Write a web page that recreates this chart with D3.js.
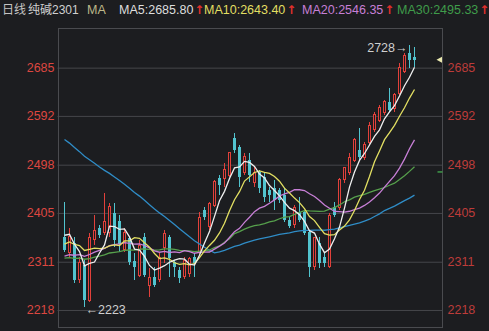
<!DOCTYPE html>
<html>
<head>
<meta charset="utf-8">
<script src="https://cdn.jsdelivr.net/npm/d3@7/dist/d3.min.js"></script>
<style>
  html, body { margin: 0; padding: 0; background: #1c1d20; }
  svg { display: block; }
</style>
</head>
<body>
<svg id="chart" width="489" height="331"></svg>
<script>
// daily bars, 纯碱2301 (visible window)
const opens  = [2359,2328,2347,2276,2305,2237,2353,2376,2368,2368,2405,2390,2334,2357,2312,2285,2359,2266,2282,2276,
                2339,2359,2310,2295,2282,2289,2320,2328,2411,2378,2420,2472,2472,2478,2549,2532,2482,2507,2463,2484,
                2474,2449,2453,2449,2440,2391,2382,2407,2407,2368,2301,2347,2320,2301,2416,2416,2469,2482,2507,2526,
                2511,2540,2565,2584,2598,2619,2607,2636,2677,2713,2706]
const highs  = [2426,2376,2359,2320,2314,2366,2401,2382,2443,2424,2424,2401,2376,2361,2328,2353,2366,2299,2301,2328,
                2372,2363,2314,2301,2320,2320,2328,2407,2416,2426,2469,2478,2501,2522,2559,2536,2521,2521,2494,2488,
                2482,2455,2469,2453,2453,2397,2420,2436,2411,2372,2359,2359,2328,2405,2426,2472,2494,2521,2549,2569,
                2542,2580,2600,2613,2623,2646,2636,2694,2713,2728,2725]
const lows   = [2330,2320,2270,2270,2223,2233,2343,2357,2363,2359,2339,2330,2330,2305,2276,2282,2282,2243,2262,2272,
                2309,2282,2282,2270,2278,2282,2282,2326,2391,2372,2416,2440,2455,2474,2521,2455,2478,2465,2455,2443,
                2426,2426,2411,2424,2388,2376,2376,2388,2363,2282,2295,2299,2301,2299,2398,2411,2463,2478,2503,2507,
                2507,2536,2561,2580,2594,2600,2600,2632,2675,2684,2686]
const closes = [2334,2359,2276,2310,2237,2357,2372,2363,2388,2418,2353,2345,2368,2310,2301,2343,2285,2280,2266,2320,
                2366,2318,2301,2280,2314,2318,2309,2397,2397,2424,2465,2459,2488,2521,2526,2474,2513,2478,2482,2453,
                2436,2440,2430,2430,2391,2380,2416,2391,2366,2301,2357,2309,2309,2401,2401,2469,2492,2511,2546,2513,
                2536,2574,2594,2609,2619,2603,2634,2686,2709,2700,2700]

// closes before the window, only needed for the moving averages (estimated from the MA curves)
const prevCloses = [2768,2781,2790,2776,2765,2772,2785,2779,2770,2762,
                    2771,2783,2788,2776,2769,2774,2780,2772,2766,2778,
                    2785,2775,2768,2771,2779,2773,2767,2776,2770,2772,
                    2330,2318,2296,2305,2322,2290,2301,2315,2308,2315,
                    2310,2295,2284,2302,2290,2280,2296,2308,2315,2310,
                    2318,2325,2332,2330,2335,
                    2350,2372,2380,2374]

const yTicks = [2218, 2311, 2405, 2498, 2592, 2685]
const maPeriods = [60, 30, 20, 10, 5]
const maColors  = ['#2f8cc6', '#56a04c', '#c77fd6', '#e2df62', '#eeeeee']
const legendTexts  = ['MA5:2685.80', 'MA10:2643.40', 'MA20:2546.35', 'MA30:2495.33']
const legendColors = ['#dedede', '#e2df62', '#c77fd6', '#3f9c4a']
const markerValue = 2484

const FONT = '"Liberation Sans", Arial, "Noto Sans CJK SC", sans-serif'
const BG = '#1c1d20'
const UP = '#e2413b'
const DOWN = '#52c4cf'

const svg = d3.select('#chart')
const box = { left: 58.5, right: 442.5, top: 28.5, bottom: 327.5 }

const xScale = d3.scaleLinear().domain([-1.2, 75.6]).range([box.left, box.right])
const yScale = d3.scaleLinear().domain([2185.2, 2761.4]).range([box.bottom - 0.5, box.top - 0.5])

// grid + left labels
const yAxisL = d3.axisLeft(yScale)
  .tickValues(yTicks)
  .tickFormat(d3.format('d'))
  .tickSize(-(box.right - box.left))
  .tickPadding(4)
const gl = svg.append('g').attr('transform', `translate(${box.left},0)`).call(yAxisL)
gl.select('.domain').remove()
gl.selectAll('.tick line').attr('stroke', '#45464a').attr('x1', -1)
gl.selectAll('.tick text').attr('fill', '#dc4740').attr('font-family', FONT).attr('font-size', 12.5)

const yAxisR = d3.axisRight(yScale).tickValues(yTicks).tickFormat(d3.format('d')).tickSize(0).tickPadding(5)
const gr = svg.append('g').attr('transform', `translate(${box.right},0)`).call(yAxisR)
gr.select('.domain').remove()
gr.selectAll('.tick text').attr('fill', '#bd3c3a').attr('font-family', FONT).attr('font-size', 12.5)

svg.append('rect')
  .attr('x', box.left).attr('y', box.top)
  .attr('width', box.right - box.left).attr('height', box.bottom - box.top)
  .attr('fill', 'none').attr('stroke', '#4a4b4f')

// candles
const bars = opens.map((o, i) => ({ i, o, h: highs[i], l: lows[i], c: closes[i] }))
const candles = svg.append('g').attr('shape-rendering', 'crispEdges')
candles.selectAll('line.wick').data(bars).enter().append('line')
  .attr('class', 'wick')
  .attr('x1', d => xScale(d.i)).attr('x2', d => xScale(d.i))
  .attr('y1', d => yScale(d.h)).attr('y2', d => yScale(d.l))
  .attr('stroke', d => d.c >= d.o ? UP : DOWN)
candles.selectAll('rect.body').data(bars).enter().append('rect')
  .attr('class', 'body')
  .attr('x', d => xScale(d.i) - (d.c >= d.o ? 1 : 1.5))
  .attr('width', d => d.c >= d.o ? 2 : 3)
  .attr('y', d => yScale(Math.max(d.o, d.c)))
  .attr('height', d => Math.max(1, Math.abs(yScale(d.o) - yScale(d.c))))
  .attr('fill', d => d.c >= d.o ? BG : DOWN)
  .attr('stroke', d => d.c >= d.o ? UP : 'none')

// moving averages
const allCloses = prevCloses.concat(closes)
const offset = prevCloses.length
function movingAvg(p) {
  return closes.map((c, i) => {
    const k = offset + i
    return { i, v: d3.mean(allCloses.slice(k - p + 1, k + 1)) }
  })
}
const line = d3.line().x(d => xScale(d.i)).y(d => yScale(d.v))
maPeriods.forEach((p, j) => {
  svg.append('path')
    .datum(movingAvg(p))
    .attr('d', line)
    .attr('fill', 'none')
    .attr('stroke', maColors[j])
    .attr('stroke-width', 1.3)
})

// high / low notes
const hiIdx = d3.maxIndex(highs)
const loIdx = d3.minIndex(lows)
svg.append('text')
  .attr('x', xScale(hiIdx) - 2).attr('y', yScale(highs[hiIdx]) + 2)
  .attr('dy', '0.35em').attr('text-anchor', 'end')
  .attr('fill', '#cfcfcf').attr('font-family', FONT).attr('font-size', 12.5)
  .text(highs[hiIdx] + '→')
svg.append('text')
  .attr('x', xScale(loIdx) + 1).attr('y', yScale(lows[loIdx]) + 2.5)
  .attr('dy', '0.35em')
  .attr('fill', '#cfcfcf').attr('font-family', FONT).attr('font-size', 12.5)
  .text('←' + lows[loIdx])

// right edge markers
const lastY = yScale(closes[closes.length - 1])
svg.append('path')
  .attr('d', `M${box.right - 6},${lastY} L${box.right - 0.5},${lastY - 3} L${box.right - 0.5},${lastY + 3} Z`)
  .attr('fill', '#ecebb0')
svg.append('line')
  .attr('x1', box.right - 5).attr('x2', box.right)
  .attr('y1', yScale(markerValue)).attr('y2', yScale(markerValue))
  .attr('stroke', '#3f9c4a').attr('stroke-width', 1.5)

// header
const head = svg.append('g').attr('font-family', FONT).attr('font-size', 12)
head.append('text').attr('x', 2).attr('y', 13.5).attr('fill', '#c4c4c4').text('日线')
head.append('text').attr('x', 28).attr('y', 13.5).attr('fill', '#d0d0d0').text('纯碱2301')
head.append('text').attr('x', 87).attr('y', 13.5).attr('fill', '#bdb88a').attr('font-size', 12.5).text('MA')
const legendX = [119, 204, 302, 397]
legendTexts.forEach((t, j) => {
  const txt = head.append('text')
    .attr('x', legendX[j]).attr('y', 13.5)
    .attr('font-size', 12.5)
  txt.append('tspan').attr('fill', legendColors[j]).text(t)
  txt.append('tspan').attr('fill', '#e2302c').attr('dx', 1)
    .attr('font-family', '"DejaVu Sans", sans-serif').attr('font-size', 12).attr('font-weight', 'bold').text('↑')
})
</script>
</body>
</html>
